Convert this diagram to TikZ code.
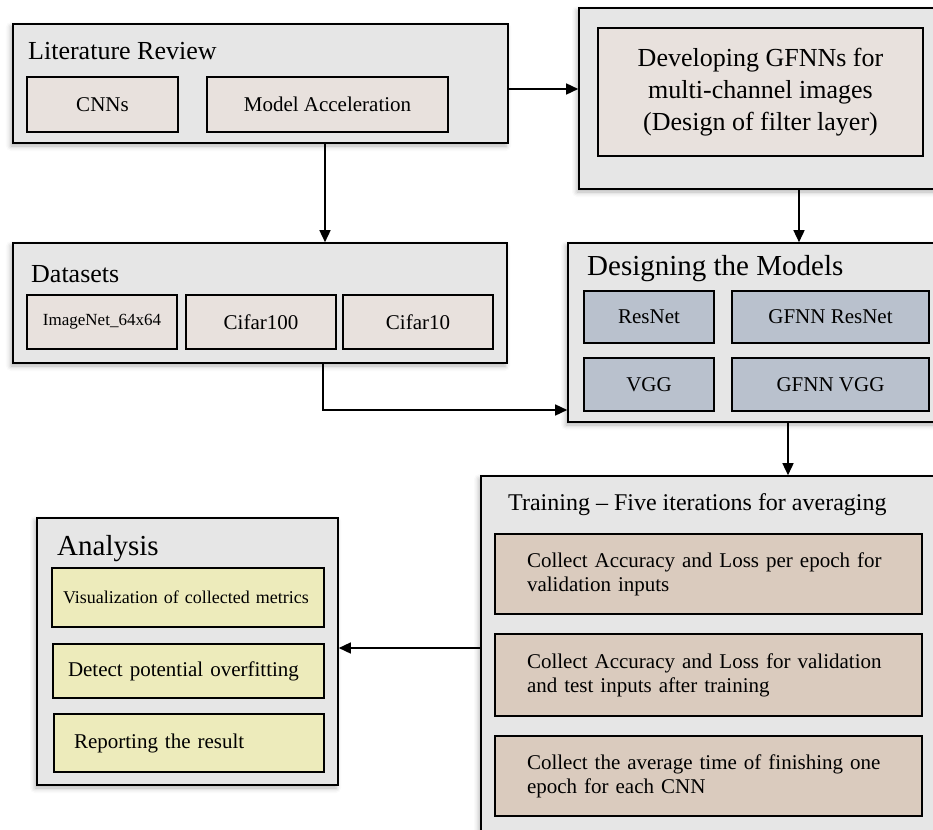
\documentclass[tikz,border=0pt]{standalone}
\usepackage{fontspec}
\setmainfont{Liberation Serif}
\usetikzlibrary{arrows.meta, positioning, calc, shadows.blur}
\definecolor{panelgray}{RGB}{230,230,230}
\definecolor{beigefill}{RGB}{232,225,221}
\definecolor{slatefill}{RGB}{185,193,205}
\definecolor{tanfill}{RGB}{218,203,190}
\definecolor{yellowfill}{RGB}{237,235,187}

\begin{document}
\begin{tikzpicture}[
    x=1pt, y=-1pt,
    panel/.style={rectangle, draw=black, line width=1.6pt, fill=panelgray, inner sep=0pt,
        blur shadow={shadow xshift=-2pt, shadow yshift=-3pt, shadow blur radius=5pt, shadow opacity=30}},
    heading/.style={anchor=base west, inner sep=0pt, font=\fontsize{26}{30}\selectfont},
    item/.style={rectangle, draw=black, line width=2pt, fill=beigefill, inner sep=0pt,
        align=center, font=\fontsize{21}{25}\selectfont},
    model/.style={item, fill=slatefill},
    collectbox/.style={item, fill=tanfill, align=left, text width=363pt, inner xsep=32pt,
        minimum height=80pt, font=\fontsize{21}{24}\selectfont},
    resultbox/.style={item, fill=yellowfill, align=left, inner ysep=0pt},
    arrow/.style={-{Triangle[length=12pt, width=11pt]}, line width=1.5pt}
]
\useasboundingbox (0,0) rectangle (933,829);

% === LITERATURE REVIEW ===
\node[panel, minimum width=495pt, minimum height=119pt] (lit) at (260.5,83.5) {};
\node[heading] (littitle) at (28,60) {Literature Review};
\node[item, minimum width=151pt, minimum height=55pt] (cnn) at (102.5,104.5) {CNNs};
\node[item, minimum width=241pt, minimum height=55pt, right=27pt of cnn] (accel) {Model Acceleration};

% === DEVELOPING GFNNs ===
\node[panel, minimum width=361pt, minimum height=181pt] (dev) at (759.5,98.5) {};
\node[item, minimum width=325pt, minimum height=128pt, font=\fontsize{26}{32}\selectfont] (gfnn) at (760.5,92) {
    Developing GFNNs for\\
    multi-channel images\\
    (Design of filter layer)
};

% === DATASETS ===
\node[panel, minimum width=494pt, minimum height=120pt] (data) at (260,303) {};
\node[heading] (datatitle) at (31,282) {Datasets};
\node[item, minimum width=150pt, minimum height=54pt, font=\fontsize{17}{20}\selectfont] (imagenet) at (102,322) {ImageNet\_64x64};
\node[item, minimum width=150pt, minimum height=54pt, right=7pt of imagenet] (cifar100) {Cifar100};
\node[item, minimum width=150pt, minimum height=54pt, right=5pt of cifar100] (cifar10) {Cifar10};

% === DESIGNING THE MODELS ===
\node[panel, minimum width=372pt, minimum height=179pt] (design) at (754,332.5) {};
\node[heading, font=\fontsize{29}{33}\selectfont] (designtitle) at (587,275) {Designing the Models};
\node[model, minimum width=130pt, minimum height=52pt] (resnet) at (649,317) {ResNet};
\node[model, minimum width=197pt, minimum height=52pt] (gresnet) at (830.5,317) {GFNN ResNet};
\node[model, minimum width=130pt, minimum height=53pt] (vgg) at (649,384.5) {VGG};
\node[model, minimum width=197pt, minimum height=53pt] (gvgg) at (830.5,384.5) {GFNN VGG};

% === TRAINING ===
\node[panel, minimum width=459pt, minimum height=369pt] (train) at (710.5,660.5) {};
\node[heading, font=\fontsize{24}{28}\selectfont] (traintitle) at (508,510) {Training -- Five iterations for averaging};
\node[collectbox] (accval) at (708.5,574) {
    Collect Accuracy and Loss per epoch for\\
    validation inputs
};
\node[collectbox, minimum height=82pt] (acctest) at (708.5,675) {
    Collect Accuracy and Loss for validation\\
    and test inputs after training
};
\node[collectbox] (epochtime) at (708.5,776) {
    Collect the average time of finishing one\\
    epoch for each CNN
};

% === ANALYSIS ===
\node[panel, minimum width=301pt, minimum height=267pt] (ana) at (187.5,651.5) {};
\node[heading, font=\fontsize{29}{33}\selectfont] (anatitle) at (57,555) {Analysis};
\node[resultbox, minimum height=59pt, text width=250pt, inner xsep=11pt,
    font=\fontsize{18}{22}\selectfont] (visual) at (188,597.5) {Visualization of collected metrics};
\node[resultbox, minimum height=54pt, text width=241pt, inner xsep=15pt] (overfit) at (188.5,671) {Detect potential overfitting};
\node[resultbox, minimum height=58pt, text width=230pt, inner xsep=20pt] (report) at (189,743) {Reporting the result};

% Arrows
\draw[arrow] ([yshift=-5.5pt]lit.east) -- ([yshift=-5.5pt]lit.east -| dev.west);
\draw[arrow] ([xshift=64.5pt]lit.south) -- ([xshift=64.5pt]lit.south |- data.north);
\draw[arrow] ([xshift=39.5pt]dev.south) -- ([xshift=39.5pt]dev.south |- design.north);
\draw[arrow] ([xshift=63pt]data.south) |- ([yshift=-77.5pt]design.west);
\draw[arrow] ([xshift=34pt]design.south) -- ([xshift=34pt]design.south |- train.north);
\draw[arrow] ([yshift=12.5pt]train.west) -- ([yshift=12.5pt]train.west -| ana.east);

\end{tikzpicture}
\end{document}
